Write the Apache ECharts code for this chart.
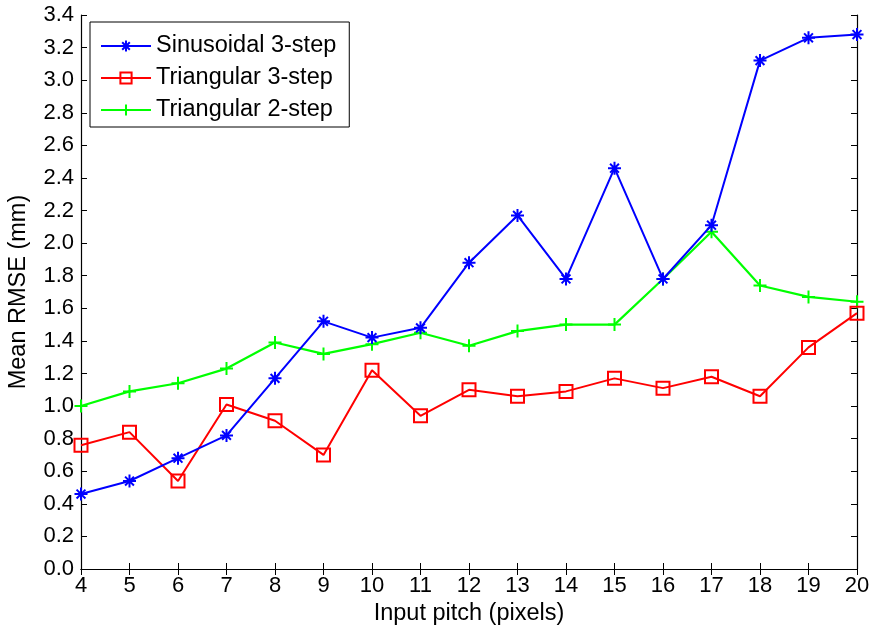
<!DOCTYPE html>
<html>
<head>
<meta charset="utf-8">
<script src="https://cdn.jsdelivr.net/npm/echarts@6/dist/echarts.min.js"></script>
<style>
  html, body { margin: 0; padding: 0; background: #fff; }
  #chart { width: 872px; height: 634px; }
</style>
</head>
<body>
<div id="chart"></div>
<script>
// Input pitch values (pixels)
const pitch = [4, 5, 6, 7, 8, 9, 10, 11, 12, 13, 14, 15, 16, 17, 18, 19, 20];

// Mean RMSE (mm) per method
const sinusoidal3 = [0.46, 0.54, 0.68, 0.82, 1.17, 1.52, 1.42, 1.48, 1.88, 2.17, 1.78, 2.46, 1.78, 2.11, 3.12, 3.26, 3.28];
const triangular3 = [0.76, 0.84, 0.54, 1.01, 0.91, 0.70, 1.22, 0.94, 1.10, 1.06, 1.09, 1.17, 1.11, 1.18, 1.06, 1.36, 1.57];
const triangular2 = [1.00, 1.09, 1.14, 1.23, 1.39, 1.32, 1.38, 1.45, 1.37, 1.46, 1.50, 1.50, 1.78, 2.07, 1.74, 1.67, 1.64];

const seriesNames = ['Sinusoidal 3-step', 'Triangular 3-step', 'Triangular 2-step'];

const FONT = 'Liberation Sans, Arial, sans-serif';
const FS_TICK = 22;
const FS_TEXT = 23.5;
const pairs = (ys) => pitch.map((x, i) => [x, ys[i]]);

const asterisk = 'path://M5,0L5,10M0,5L10,5M1.6,1.6L8.4,8.4M8.4,1.6L1.6,8.4';
const plus = 'path://M5,0L5,10M0,5L10,5';

const chart = echarts.init(document.getElementById('chart'), null, { renderer: 'canvas' });

const tickStyle = { show: true, inside: true, length: 6, lineStyle: { color: '#000', width: 1 } };
const axisLineStyle = { show: true, lineStyle: { color: '#000', width: 1.2 } };

chart.setOption({
  animation: false,
  backgroundColor: '#fff',
  grid: { left: 81, right: 15, top: 15, bottom: 65, containLabel: false, outerBoundsMode: 'none' },
  legend: {
    left: 90, top: 22,
    orient: 'vertical',
    backgroundColor: '#fff',
    borderColor: '#000',
    borderWidth: 1,
    borderRadius: 0,
    padding: [12, 13, 5, 10],
    itemWidth: 50,
    itemHeight: 14,
    itemGap: 8,
    textStyle: { fontFamily: FONT, fontSize: FS_TEXT, color: '#000' },
    data: seriesNames
  },
  xAxis: [
    {
      type: 'value', min: 4, max: 20, interval: 1,
      name: 'Input pitch (pixels)', nameLocation: 'middle', nameGap: 31,
      nameTextStyle: { fontFamily: FONT, fontSize: FS_TEXT, color: '#000' },
      axisLine: axisLineStyle, axisTick: tickStyle,
      axisLabel: { fontFamily: FONT, fontSize: FS_TICK, color: '#000', margin: 6 },
      splitLine: { show: false }
    },
    {
      type: 'value', min: 4, max: 20, interval: 1, position: 'top',
      axisLine: axisLineStyle, axisTick: tickStyle,
      axisLabel: { show: false }, splitLine: { show: false }
    }
  ],
  yAxis: [
    {
      type: 'value', min: 0, max: 3.4, interval: 0.2,
      name: 'Mean RMSE (mm)', nameLocation: 'middle', nameGap: 50, nameRotate: 90,
      nameTextStyle: { fontFamily: FONT, fontSize: FS_TEXT, color: '#000' },
      axisLine: axisLineStyle, axisTick: tickStyle,
      axisLabel: { fontFamily: FONT, fontSize: FS_TICK, color: '#000', margin: 7, formatter: (v) => v.toFixed(1) },
      splitLine: { show: false }
    },
    {
      type: 'value', min: 0, max: 3.4, interval: 0.2, position: 'right',
      axisLine: axisLineStyle, axisTick: tickStyle,
      axisLabel: { show: false }, splitLine: { show: false }
    }
  ],
  series: [
    {
      name: seriesNames[0], type: 'line', data: pairs(sinusoidal3),
      symbol: asterisk, symbolSize: 13,
      lineStyle: { color: '#0000ff', width: 2 },
      itemStyle: { color: '#0000ff', borderColor: '#0000ff', borderWidth: 2 },
      z: 3
    },
    {
      name: seriesNames[1], type: 'line', data: pairs(triangular3),
      symbol: 'rect', symbolSize: 13,
      lineStyle: { color: '#ff0000', width: 2 },
      itemStyle: { color: 'rgba(255,255,255,0)', borderColor: '#ff0000', borderWidth: 2 },
      z: 2
    },
    {
      name: seriesNames[2], type: 'line', data: pairs(triangular2),
      symbol: plus, symbolSize: 13,
      lineStyle: { color: '#00ff00', width: 2.2 },
      itemStyle: { color: '#00ff00', borderColor: '#00ff00', borderWidth: 2 },
      z: 1
    }
  ]
});
</script>
</body>
</html>
